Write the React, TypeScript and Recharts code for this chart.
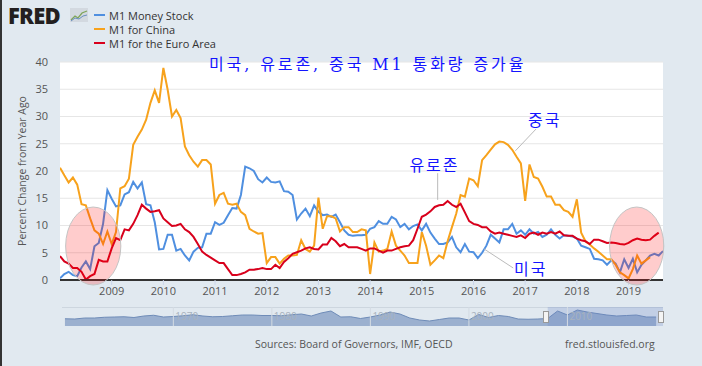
import {
  LineChart,
  Line,
  XAxis,
  YAxis,
  CartesianGrid,
  ReferenceArea,
  ReferenceLine,
  ReferenceDot,
  AreaChart,
  Area,
} from "recharts";

// monthly series, first point = Jan 2008
const startYear = 2008;

const usM1 = [
  0.3, 1.1, 1.5, 0.9, 0.7, 2.3, 3.4, 2.0, 6.2, 6.8, 10.3, 16.5,
  14.9, 13.5, 13.7, 15.7, 16.1, 18.0, 16.8, 17.9, 13.9, 13.7, 10.6, 5.6,
  5.7, 8.3, 8.3, 5.4, 5.7, 4.5, 3.6, 5.2, 5.9, 6.0, 8.5, 8.5,
  10.6, 10.1, 10.5, 11.9, 13.2, 13.1, 15.6, 20.8, 20.5, 20.0, 18.5, 17.9,
  18.8, 18.0, 17.9, 18.1, 16.3, 16.2, 15.6, 11.1, 12.2, 13.1, 11.7, 13.7,
  12.5, 11.9, 12.0, 11.6, 12.0, 10.6, 9.1, 8.3, 8.1, 8.2, 8.2, 8.3,
  9.4, 9.7, 10.8, 10.3, 10.3, 11.6, 11.1, 9.7, 10.3, 9.3, 9.9, 10.2,
  9.1, 10.3, 8.7, 7.6, 6.6, 6.6, 6.9, 7.9, 6.0, 5.1, 6.6, 5.2,
  5.1, 4.0, 5.0, 6.3, 8.3, 7.6, 6.9, 9.3, 9.3, 10.3, 8.5, 9.1,
  8.3, 9.3, 8.5, 8.8, 7.9, 8.3, 9.3, 8.3, 7.6, 8.2, 8.1, 8.0,
  7.6, 6.3, 6.0, 5.7, 3.9, 3.8, 3.6, 2.8, 3.6, 3.0, 1.4, 3.8,
  2.2, 3.9, 1.4, 2.8, 3.6, 4.5, 4.8, 4.5, 5.3,
];

const chinaM1 = [
  20.6, 19.2, 17.9, 18.8, 17.5, 13.9, 13.7, 11.3, 9.1, 8.5, 6.6, 8.9,
  6.6, 8.8, 16.8, 17.2, 18.6, 24.8, 26.3, 27.6, 29.4, 32.5, 34.8, 32.5,
  38.9, 34.9, 30.0, 31.2, 29.7, 24.5, 22.9, 21.7, 20.8, 22.0, 22.0, 21.2,
  14.0, 15.6, 16.0, 14.0, 13.8, 14.0, 12.5, 11.9, 9.4, 8.9, 8.5, 8.6,
  3.1, 4.2, 4.2, 3.0, 3.9, 4.5, 4.5, 4.6, 7.3, 5.7, 5.2, 6.3,
  15.1, 9.4, 11.7, 11.7, 11.3, 8.9, 9.7, 9.7, 8.8, 8.8, 9.3, 9.1,
  1.1, 6.9, 5.2, 5.4, 5.7, 8.9, 6.3, 5.4, 4.5, 3.1, 3.1, 3.1,
  8.8, 6.3, 2.8, 3.6, 4.5, 4.0, 7.1, 9.7, 12.2, 15.6, 15.3, 18.6,
  18.3, 17.2, 22.0, 22.9, 23.9, 24.9, 25.4, 25.3, 24.8, 23.9, 22.6, 21.4,
  14.5, 21.2, 18.9, 18.6, 17.1, 15.3, 15.3, 13.8, 13.8, 12.8, 12.5, 11.6,
  14.8, 8.7, 7.1, 6.5, 5.8, 5.2, 4.5, 3.8, 3.8, 2.8, 1.4, 0.9,
  0.3, 2.0, 4.5, 3.0, 3.6, 4.2,
];

const euroM1 = [
  4.4, 3.4, 3.0, 2.2, 2.2, 1.5, 0.1, 0.7, 1.1, 3.7, 3.4, 3.4,
  5.8, 7.7, 7.3, 9.3, 9.1, 10.3, 11.9, 13.8, 13.1, 12.5, 12.6, 12.8,
  11.3, 10.6, 9.9, 10.0, 10.3, 9.3, 8.8, 7.9, 6.6, 5.2, 4.6, 4.1,
  3.6, 3.1, 3.1, 2.0, 0.9, 0.9, 1.1, 1.4, 1.9, 1.9, 2.0, 2.2,
  2.0, 2.0, 2.8, 2.2, 3.3, 4.0, 4.8, 5.1, 5.4, 5.8, 6.0, 5.7,
  5.6, 6.5, 6.5, 7.7, 7.1, 6.2, 6.6, 6.0, 6.0, 6.0, 5.7, 5.4,
  5.8, 5.8, 5.4, 5.0, 5.4, 5.4, 5.7, 6.0, 6.2, 6.3, 7.3, 9.4,
  11.6, 12.0, 12.6, 13.4, 13.7, 13.8, 14.5, 13.8, 13.4, 14.0, 12.4, 10.8,
  10.3, 10.1, 9.7, 9.7, 8.9, 8.5, 8.7, 8.5, 8.3, 8.1, 7.9, 8.2,
  7.7, 8.5, 8.7, 8.3, 8.7, 8.5, 8.8, 8.5, 8.9, 8.2, 8.1, 8.1,
  7.6, 7.3, 7.1, 6.6, 7.4, 7.4, 7.1, 6.8, 6.9, 6.8, 6.6, 6.5,
  6.8, 7.3, 7.6, 7.4, 7.3, 7.4, 8.1, 8.7,
];

const yearTicks = [2009, 2010, 2011, 2012, 2013, 2014, 2015, 2016, 2017, 2018, 2019];
const valueTicks = [0, 5, 10, 15, 20, 25, 30, 35, 40];

// navigator strip (annual US M1 growth, rough)
const navYears = [
  1959, 1960, 1961, 1962, 1963, 1964, 1965, 1966, 1967, 1968, 1969, 1970, 1971, 1972, 1973,
  1974, 1975, 1976, 1977, 1978, 1979, 1980, 1981, 1982, 1983, 1984, 1985, 1986, 1987, 1988,
  1989, 1990, 1991, 1992, 1993, 1994, 1995, 1996, 1997, 1998, 1999, 2000, 2001, 2002, 2003,
  2004, 2005, 2006, 2007, 2008, 2009, 2010, 2011, 2012, 2013, 2014, 2015, 2016, 2017, 2018, 2019,
];
const navValues = [
  0.5, 0, 2, 2, 3.5, 4, 4.5, 3, 6, 7.5, 4, 5, 6.5, 8.5, 6,
  4.5, 5, 6.5, 8, 8, 7, 7, 6.5, 8.5, 10, 6, 12, 16, 4, 4.5,
  1, 4, 8, 14, 10, 2, -2, -4, -1, 2, 2, -2, 9, 3, 7,
  5, 0, -0.5, 0, 1, 16, 8, 18, 14, 11, 8, 6, 7, 8, 4, 4,
];

const annotations = [
  { text: "유로존", x: 2015.245, y: 21.2, line: [2015.307, 19.6, 2015.307, 14.7] },
  { text: "중국", x: 2017.38, y: 29.45, line: [2017.21, 27.7, 2016.81, 23.7] },
  { text: "미국", x: 2017.109, y: 2.29, line: [2016.206, 5.69, 2016.769, 2.2] },
];

const highlights = [
  { x1: 2008.109, x2: 2009.177, y1: -0.92, y2: 13.39 },
  { x1: 2018.633, x2: 2019.682, y1: -0.92, y2: 13.39 },
];

const chartData = usM1.map((v, i) => ({
  t: startYear + i / 12,
  us: v,
  china: i < chinaM1.length ? chinaM1[i] : null,
  euro: i < euroM1.length ? euroM1[i] : null,
}));

const navData = navYears.map((y, i) => ({ t: y, v: navValues[i] }));

const BLUE = "#4f8fe0";
const ORANGE = "#f7a21c";
const RED = "#d8001c";
const KO_BLUE = "#1414ff";

const legendItems = [
  { name: "M1 Money Stock", color: BLUE },
  { name: "M1 for China", color: ORANGE },
  { name: "M1 for the Euro Area", color: RED },
];

const Ellipse = (p: any) => (
  <ellipse
    cx={p.x + p.width / 2}
    cy={p.y + p.height / 2}
    rx={p.width / 2}
    ry={p.height / 2}
    fill="rgba(255,0,0,0.2)"
    stroke="#c4c4c4"
    strokeWidth={1}
  />
);

export default function App() {
  return (
    <div
      style={{
        position: "relative",
        width: 702,
        height: 366,
        background: "#e1e9f0",
        overflow: "hidden",
        fontFamily: "'Open Sans', sans-serif",
        borderLeft: "2px solid #333",
        boxSizing: "border-box",
      }}
    >
      <style>{"body{margin:0}"}</style>

      {/* logo */}
      <div
        style={{
          position: "absolute",
          left: 6,
          top: 0,
          fontSize: 22,
          fontWeight: 800,
          color: "#231f20",
          letterSpacing: -0.8,
        }}
      >
        FRED
      </div>
      <svg style={{ position: "absolute", left: 68, top: 8 }} width={18} height={14}>
        <rect x={0} y={0} width={18} height={14} fill="#d3d9e0" />
        <polyline points="1,12 5,8 8,10 12,5 17,3" fill="none" stroke="#7fa55a" strokeWidth={1.3} />
        <polyline points="1,13 5,10 9,11 13,8 17,7" fill="none" stroke="#6a8fbf" strokeWidth={1} />
      </svg>

      {/* legend */}
      {legendItems.map((it, i) => (
        <div
          key={it.name}
          style={{
            position: "absolute",
            left: 92,
            top: 7 + i * 14,
            height: 16,
            display: "flex",
            alignItems: "center",
            fontSize: 11,
            color: "#333",
          }}
        >
          <span style={{ width: 11, height: 2, background: it.color, marginRight: 4 }} />
          {it.name}
        </div>
      ))}

      {/* title */}
      <div
        style={{
          position: "absolute",
          left: 207,
          top: 51,
          fontSize: 16,
          color: KO_BLUE,
          fontFamily: "'DejaVu Serif', 'Noto Sans CJK KR', serif",
          letterSpacing: 2.9,
          whiteSpace: "nowrap",
          zIndex: 2,
        }}
      >
        미국, 유로존, 중국 M1 통화량 증가율
      </div>

      {/* y axis title */}
      <div
        style={{
          position: "absolute",
          left: 20,
          top: 171,
          transform: "translate(-50%, -50%) rotate(-90deg)",
          fontSize: 10.5,
          color: "#555",
          whiteSpace: "nowrap",
        }}
      >
        Percent Change from Year Ago
      </div>

      <LineChart
        width={702}
        height={300}
        data={chartData}
        margin={{ top: 62, right: 41, left: -2, bottom: 0 }}
        style={{ position: "absolute", left: 0, top: 0 }}
      >
        <CartesianGrid vertical={false} stroke="#e6e6e6" fill="#fff" />
        <XAxis
          dataKey="t"
          type="number"
          domain={[startYear, startYear + 140 / 12]}
          ticks={yearTicks}
          tickFormatter={(v) => String(v)}
          height={20}
          allowDataOverflow
          axisLine={{ stroke: "#333", strokeWidth: 2 }}
          tickLine={{ stroke: "#ccd6eb" }}
          tickSize={5}
          tickMargin={2}
          tick={{ fill: "#555", fontSize: 11 }}
        />
        <YAxis
          domain={[0, 40]}
          ticks={valueTicks}
          width={60}
          axisLine={false}
          tickLine={false}
          tickMargin={6}
          tick={{ fill: "#555", fontSize: 11 }}
        />
        <Line dataKey="us" stroke={BLUE} strokeWidth={2} dot={false} isAnimationActive={false} />
        <Line dataKey="china" stroke={ORANGE} strokeWidth={2} dot={false} isAnimationActive={false} />
        <Line dataKey="euro" stroke={RED} strokeWidth={2} dot={false} isAnimationActive={false} />
        {highlights.map((h, i) => (
          <ReferenceArea
            key={i}
            x1={h.x1}
            x2={h.x2}
            y1={h.y1}
            y2={h.y2}
            ifOverflow="visible"
            shape={Ellipse}
            zIndex={1500}
          />
        ))}
        {annotations.map((a) => (
          <ReferenceLine
            key={a.text + "-l"}
            segment={[
              { x: a.line[0], y: a.line[1] },
              { x: a.line[2], y: a.line[3] },
            ]}
            stroke="#bbb"
            strokeWidth={1}
          />
        ))}
        {annotations.map((a) => (
          <ReferenceDot
            key={a.text}
            x={a.x}
            y={a.y}
            r={0}
            shape={(p: any) => (
              <text
                x={p.cx}
                y={p.cy}
                textAnchor="middle"
                dominantBaseline="central"
                fill={KO_BLUE}
                fontSize={16}
                letterSpacing={2}
                fontFamily="'Noto Sans CJK KR', sans-serif"
              >
                {a.text}
              </text>
            )}
          />
        ))}
      </LineChart>

      {/* navigator */}
      <div style={{ position: "absolute", left: 60, top: 307, width: 601, height: 1, background: "#cdd6df" }} />
      <AreaChart
        width={601}
        height={19}
        data={navData}
        margin={{ top: 0, right: 0, left: 0, bottom: 0 }}
        style={{ position: "absolute", left: 60, top: 307 }}
      >
        <XAxis dataKey="t" type="number" domain={[1958.7, 2019.7]} hide />
        <YAxis domain={[-14, 24]} hide />
        {[1970, 1980, 1990, 2000, 2010].map((y) => (
          <ReferenceLine
            key={y}
            x={y}
            stroke="#d4dbe3"
            label={{ value: String(y), fill: "#a8b2bd", fontSize: 10, position: "insideLeft", offset: 2 }}
          />
        ))}
        <Area
          dataKey="v"
          type="linear"
          stroke="#6f8cb8"
          strokeWidth={1}
          fill="#8ea6c9"
          fillOpacity={0.85}
          baseValue="dataMin"
          isAnimationActive={false}
        />
        <ReferenceArea x1={2008.0} x2={2019.7} fill="#6685c2" fillOpacity={0.25} stroke="none" ifOverflow="visible" />
      </AreaChart>
      {[543, 658].map((x) => (
        <div
          key={x}
          style={{
            position: "absolute",
            left: x - 2,
            top: 311,
            width: 4,
            height: 10,
            background: "#f4f4f4",
            border: "1px solid #999",
          }}
        />
      ))}

      {/* footer */}
      <div style={{ position: "absolute", left: 253, top: 337, fontSize: 10.5, color: "#555" }}>
        Sources: Board of Governors, IMF, OECD
      </div>
      <div style={{ position: "absolute", left: 563, top: 337, fontSize: 10.5, color: "#555" }}>
        fred.stlouisfed.org
      </div>
    </div>
  );
}
